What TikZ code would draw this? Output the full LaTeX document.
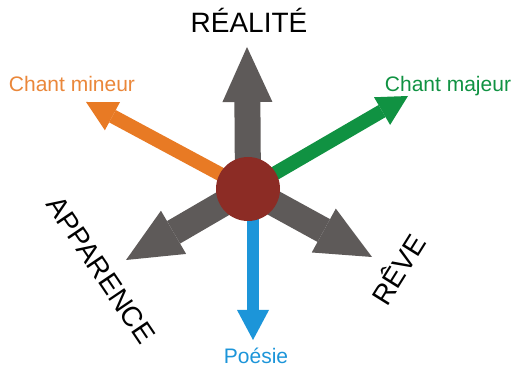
\documentclass[tikz,border=0pt]{standalone}
\usepackage{fontspec}
\setmainfont{Liberation Sans}
\usetikzlibrary{arrows.meta}
\definecolor{axegray}{HTML}{5E5A59}
\definecolor{hubred}{HTML}{8C2C25}
\definecolor{mineurorange}{HTML}{E87A24}
\definecolor{majeurgreen}{HTML}{109242}
\definecolor{poesieblue}{HTML}{1C95D9}

\begin{document}
\begin{tikzpicture}[x=1pt, y=1pt,
  hub/.style={circle, fill=hubred, minimum size=64pt, inner sep=0pt},
  axe/.style={draw=axegray, line width=26pt, -{Triangle[length=55pt 0, width=50pt 0, line width=0pt]}, fill=axegray},
  chant/.style={line width=14pt, -{Triangle[length=30pt 0, width=32pt 0, line width=0pt]}},
  biglbl/.style={font=\fontsize{28}{30}\selectfont, text=black, inner sep=0pt},
  smalllbl/.style={font=\fontsize{21}{23}\selectfont, inner sep=0pt, anchor=base}
]
\useasboundingbox (0,0) rectangle (518,366);
\coordinate (o) at (248,177);
\coordinate (realite) at (247,319);
\coordinate (apparence) at (126,106);
\coordinate (reve) at (372,109);
\coordinate (mineur) at (86,264);
\coordinate (majeur) at (408,270);
\coordinate (poesie) at (253,26);

% les trois grands axes
\draw[axe] (o) -- (realite);
\draw[axe] (o) -- (apparence);
\draw[axe] (o) -- (reve);
% les chants et la poesie
\draw[chant, draw=mineurorange, fill=mineurorange] (o) -- (mineur);
\draw[chant, draw=majeurgreen, fill=majeurgreen] (o) -- (majeur);
\draw[chant, line width=12pt, draw=poesieblue, fill=poesieblue] (o -| poesie) -- (poesie);
\node[hub] (h) at (o) {};

\node[biglbl, anchor=base] (lrealite) at (249,333) {RÉALITÉ};
\node[biglbl, rotate=-56] (lapparence) at (101,96) {APPARENCE};
\node[biglbl, rotate=58] (lreve) at (397,97) {RÊVE};
\node[smalllbl, text=mineurorange!90!white] (lmineur) at (72,274) {Chant mineur};
\node[smalllbl, text=majeurgreen] (lmajeur) at (448,274) {Chant majeur};
\node[smalllbl, text=poesieblue] (lpoesie) at (256,3) {Poésie};
\end{tikzpicture}
\end{document}
